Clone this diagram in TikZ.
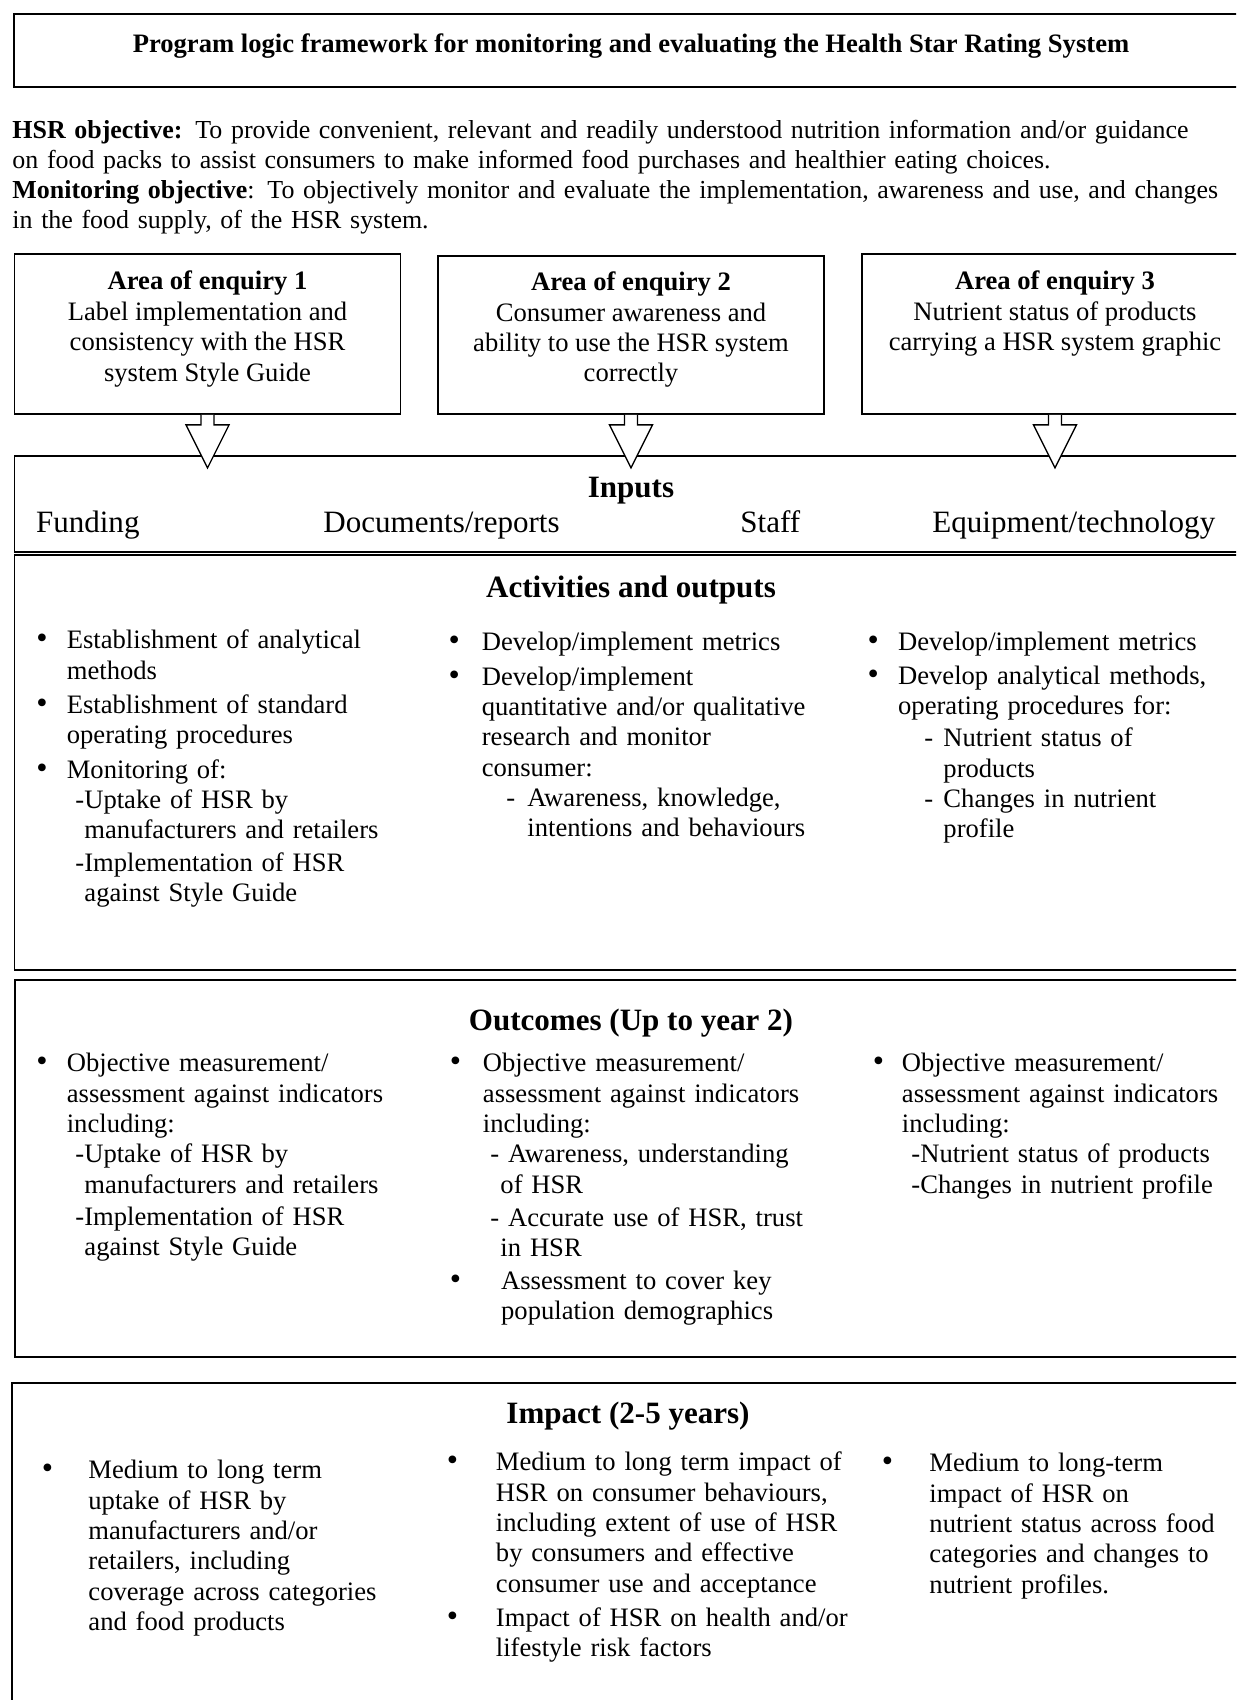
\documentclass[tikz,border=0pt]{standalone}
\usepackage{fontspec}
\setmainfont{Liberation Serif}
\usetikzlibrary{fit}

\newlength{\unitpx}
\setlength{\unitpx}{0.451pt}
\newcommand{\bodysize}{\fontsize{12pt}{13.7pt}\selectfont}
\newcommand{\objsize}{\fontsize{11.7pt}{13.55pt}\selectfont}
\newcommand{\headsize}{\fontsize{14pt}{16.1pt}\selectfont}
\newcommand{\dotmark}{{\fontsize{14.5pt}{14.5pt}\selectfont\textbullet}}
\newcommand{\bullitem}[3]{\hangindent=#1\unitpx\hangafter=0 \leavevmode\llap{\makebox[0pt][c]{\dotmark}\hspace*{#2\unitpx}}\strut#3\par}
\newcommand{\dashitem}[3]{\hangindent=#2\unitpx\hangafter=1 \leavevmode\hspace*{#1\unitpx}\strut#3\par}
\newcommand{\itemgap}[1][4]{\vspace{#1\unitpx}}
\newcommand{\blockarrow}[1]{\draw[hollow] (#1.south) ++(-6.5,0) -- ++(0,10) -- ++(-15,0) -- ++(21.5,43) -- ++(21.5,-43) -- ++(-15,0) -- ++(0,-10);}

\tikzset{frame/.style={draw, line width=.8pt, inner sep=0pt}}
\tikzset{head/.style={anchor=base, font=\headsize\bfseries, inner sep=0pt}}
\tikzset{input/.style={anchor=base west, font=\headsize, inner sep=0pt}}
\tikzset{areatxt/.style={anchor=north, align=center, font=\bodysize, inner sep=0pt}}
\tikzset{col/.style={anchor=north west, inner sep=0pt, text width=200pt, align=left, font=\bodysize}}
\tikzset{hollow/.style={draw, fill=white, line width=.6pt, line join=miter}}

\begin{document}
\begin{tikzpicture}[x=0.451pt, y=-0.451pt]
  \useasboundingbox (0,0) rectangle (1236,1700);
  \clip (0,0) rectangle (1236,1700);

  % --- title ---
  \node[frame, fit={(14,14) (1248,87)}] (title) {};
  \node[head, font=\bodysize\bfseries] (titletxt) at (631,53) {Program logic framework for monitoring and evaluating the Health Star Rating System};

  % --- objectives ---
  \node[col, text width=560pt, font=\objsize] (objectives) at (12,117) {\strut\textbf{HSR objective:} To provide convenient, relevant and readily understood nutrition information and/or guidance\newline
    on food packs to assist consumers to make informed food purchases and healthier eating choices.\newline
    \textbf{Monitoring objective}: To objectively monitor and evaluate the implementation, awareness and use, and changes\newline
    in the food supply, of the HSR system.};

  % --- areas of enquiry ---
  \node[frame, fit={(14.6,254) (400.5,414)}] (area1) {};
  \node[frame, fit={(438,256) (824,414)}] (area2) {};
  \node[frame, fit={(862,254) (1248,414)}] (area3) {};
  \node[areatxt] (area1txt) at ([yshift=-6.8pt]area1.north) {\strut\textbf{Area of enquiry 1}\\Label implementation and\\consistency with the HSR\\system Style Guide};
  \node[areatxt] (area2txt) at ([yshift=-6.3pt]area2.north) {\strut\textbf{Area of enquiry 2}\\Consumer awareness and\\ability to use the HSR system\\correctly};
  \node[areatxt] (area3txt) at ([yshift=-6.8pt]area3.north) {\strut\textbf{Area of enquiry 3}\\Nutrient status of products\\carrying a HSR system graphic};

  % --- inputs ---
  \node[frame, fit={(14.6,456) (1248,551.7)}] (inputs) {};
  \foreach \a in {area1,area2,area3} {\blockarrow{\a}}
  \node[head] (inputshd) at (631,497) {Inputs};
  \node[input] (funding) at (35.6,532) {Funding};
  \node[input] (documents) at (323,532) {Documents/reports};
  \node[input] (staff) at (740,532) {Staff};
  \node[input] (equipment) at (932,532) {Equipment/technology};

  % --- activities and outputs ---
  \node[frame, fit={(14.6,555) (1248,970)}] (activities) {};
  \node[head] (activitieshd) at (631,597) {Activities and outputs};
  \node[col] (act1) at (66.4,627) {%
    \bullitem{0}{24.9}{Establishment of analytical\newline methods}\itemgap
    \bullitem{0}{24.9}{Establishment of standard\newline operating procedures}\itemgap
    \bullitem{0}{24.9}{Monitoring of:}
    \dashitem{8.6}{17.6}{-Uptake of HSR by\newline manufacturers and retailers}\itemgap[2]
    \dashitem{8.6}{17.6}{-Implementation of HSR\newline against Style Guide}};
  \node[col] (act2) at (481.4,629) {%
    \bullitem{0}{27.6}{Develop/implement metrics}\itemgap
    \bullitem{0}{27.6}{Develop/implement\newline quantitative and/or qualitative\newline research and monitor\newline consumer:}
    \dashitem{24.6}{45.6}{\makebox[21\unitpx][l]{-}Awareness, knowledge,\newline intentions and behaviours}};
  \node[col] (act3) at (897.7,629) {%
    \bullitem{0}{25}{Develop/implement metrics}\itemgap[3]
    \bullitem{0}{25}{Develop analytical methods,\newline operating procedures for:}\itemgap[2]
    \dashitem{26.3}{45.3}{\makebox[19\unitpx][l]{-}Nutrient status of\newline products}
    \dashitem{26.3}{45.3}{\makebox[19\unitpx][l]{-}Changes in nutrient\newline profile}};

  % --- outcomes ---
  \node[frame, fit={(15,980) (1248,1357)}] (outcomes) {};
  \node[head] (outcomeshd) at (631,1030) {Outcomes (Up to year 2)};
  \node[col] (out1) at (66.4,1050) {%
    \bullitem{0}{24.9}{Objective measurement/\newline assessment against indicators\newline including:}
    \dashitem{8.6}{17.6}{-Uptake of HSR by\newline manufacturers and retailers}\itemgap[2]
    \dashitem{8.6}{17.6}{-Implementation of HSR\newline against Style Guide}};
  \node[col] (out2) at (482.5,1050) {%
    \bullitem{0}{27.5}{Objective measurement/\newline assessment against indicators\newline including:}
    \dashitem{7.5}{17.5}{- Awareness, understanding\newline of HSR}\itemgap[3]
    \dashitem{7.5}{17.5}{- Accurate use of HSR, trust\newline in HSR}\itemgap[2]
    \bullitem{18.2}{45.7}{Assessment to cover key\newline population demographics}};
  \node[col] (out3) at (901.5,1050) {%
    \bullitem{0}{23.5}{Objective measurement/\newline assessment against indicators\newline including:}
    \dashitem{9.5}{9.5}{-Nutrient status of products}
    \dashitem{9.5}{9.5}{-Changes in nutrient profile}};

  % --- impact ---
  \node[frame, fit={(12,1383) (1248,1720)}] (impact) {};
  \node[head] (impacthd) at (628,1423) {Impact (2-5 years)};
  \node[col] (imp1) at (88,1457) {%
    \bullitem{0}{41}{Medium to long term\newline uptake of HSR by\newline manufacturers and/or\newline retailers, including\newline coverage across categories\newline and food products}};
  \node[col] (imp2) at (495.5,1449) {%
    \bullitem{0}{43.5}{Medium to long term impact of\newline HSR on consumer behaviours,\newline including extent of use of HSR\newline by consumers and effective\newline consumer use and acceptance}\itemgap
    \bullitem{0}{43.5}{Impact of HSR on health and/or\newline lifestyle risk factors}};
  \node[col] (imp3) at (929,1450) {%
    \bullitem{0}{42}{Medium to long-term\newline impact of HSR on\newline nutrient status across food\newline categories and changes to\newline nutrient profiles.}};

\end{tikzpicture}
\end{document}
